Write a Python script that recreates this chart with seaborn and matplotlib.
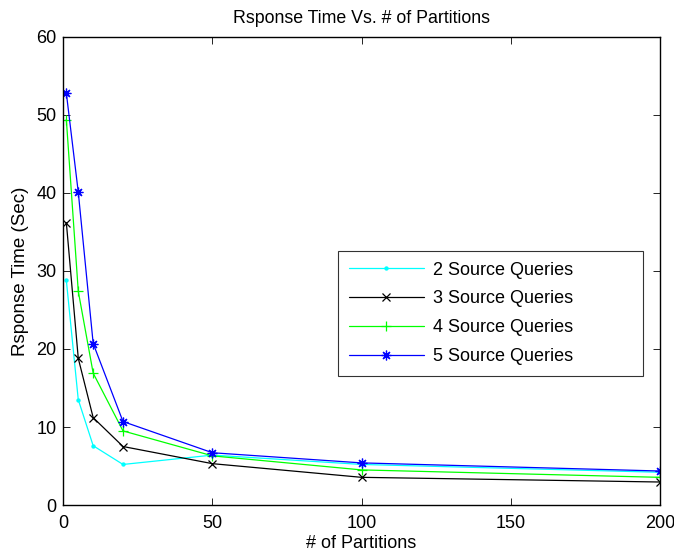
import matplotlib
matplotlib.use("Agg")
import matplotlib.pyplot as plt
import seaborn as sns
import pandas as pd

partitions = [1, 5, 10, 20, 50, 100, 200]
q2 = [28.8, 13.5, 7.6, 5.2, 6.4, 5.2, 4.2]
q3 = [36.2, 18.8, 11.2, 7.5, 5.3, 3.55, 2.95]
q4 = [49.4, 27.4, 16.9, 9.5, 6.3, 4.5, 3.55]
q5 = [52.8, 40.1, 20.7, 10.7, 6.7, 5.4, 4.36]
labels = ["2 Source Queries", "3 Source Queries", "4 Source Queries", "5 Source Queries"]
colors = ["#00ffff", "#000000", "#00ff00", "#0000ff"]
markers = [".", "x", "+", (8, 2, 0)]
msizes = [4.5, 5.5, 7.5, 7]

sns.set_style("white")
plt.rcParams["font.family"] = ["Liberation Sans", "DejaVu Sans"]
plt.rcParams["xtick.direction"] = "in"
plt.rcParams["ytick.direction"] = "in"
plt.rcParams["text.color"] = "black"
plt.rcParams["axes.labelcolor"] = "black"
plt.rcParams["xtick.color"] = "black"
plt.rcParams["ytick.color"] = "black"

fig = plt.figure(figsize=(6.74, 5.54), dpi=100)
ax = fig.add_axes([0.094, 0.0884, 0.885, 0.845])

for lab, vals, c, m, ms in zip(labels, [q2, q3, q4, q5], colors, markers, msizes):
    df = pd.DataFrame({"Partitions": partitions, "Time": vals})
    sns.lineplot(data=df, x="Partitions", y="Time", color=c, marker=m,
                 markersize=ms, markeredgewidth=0.9, markeredgecolor=c,
                 linewidth=0.9, label=lab, ax=ax)

ax.set_xlim(0, 200)
ax.set_ylim(0, 60)
ax.set_xticks([0, 50, 100, 150, 200])
ax.set_yticks([0, 10, 20, 30, 40, 50, 60])
ax.tick_params(axis="both", which="both", labelsize=13, length=5, width=0.6,
               top=True, right=True, bottom=True, left=True)
ax.tick_params(axis="x", pad=7)
ax.tick_params(axis="y", pad=5)
for s in ax.spines.values():
    s.set_linewidth(1.0)
    s.set_color("black")

ax.set_xlabel("# of Partitions", fontsize=13, labelpad=2.5)
ax.set_ylabel("Rsponse Time (Sec)", fontsize=13.5, labelpad=5)
ax.set_title("Rsponse Time Vs. # of Partitions", fontsize=12.8, pad=10)

leg = ax.legend(loc="upper left", bbox_to_anchor=(0.46, 0.278, 0.511, 0.265),
                mode="expand", fontsize=13,
                frameon=True, fancybox=False, edgecolor="black",
                handlelength=4.2, labelspacing=0.65, borderpad=0.6,
                handletextpad=0.5, borderaxespad=0)
leg.get_frame().set_linewidth(0.8)

fig.savefig("out.png", dpi=100)
